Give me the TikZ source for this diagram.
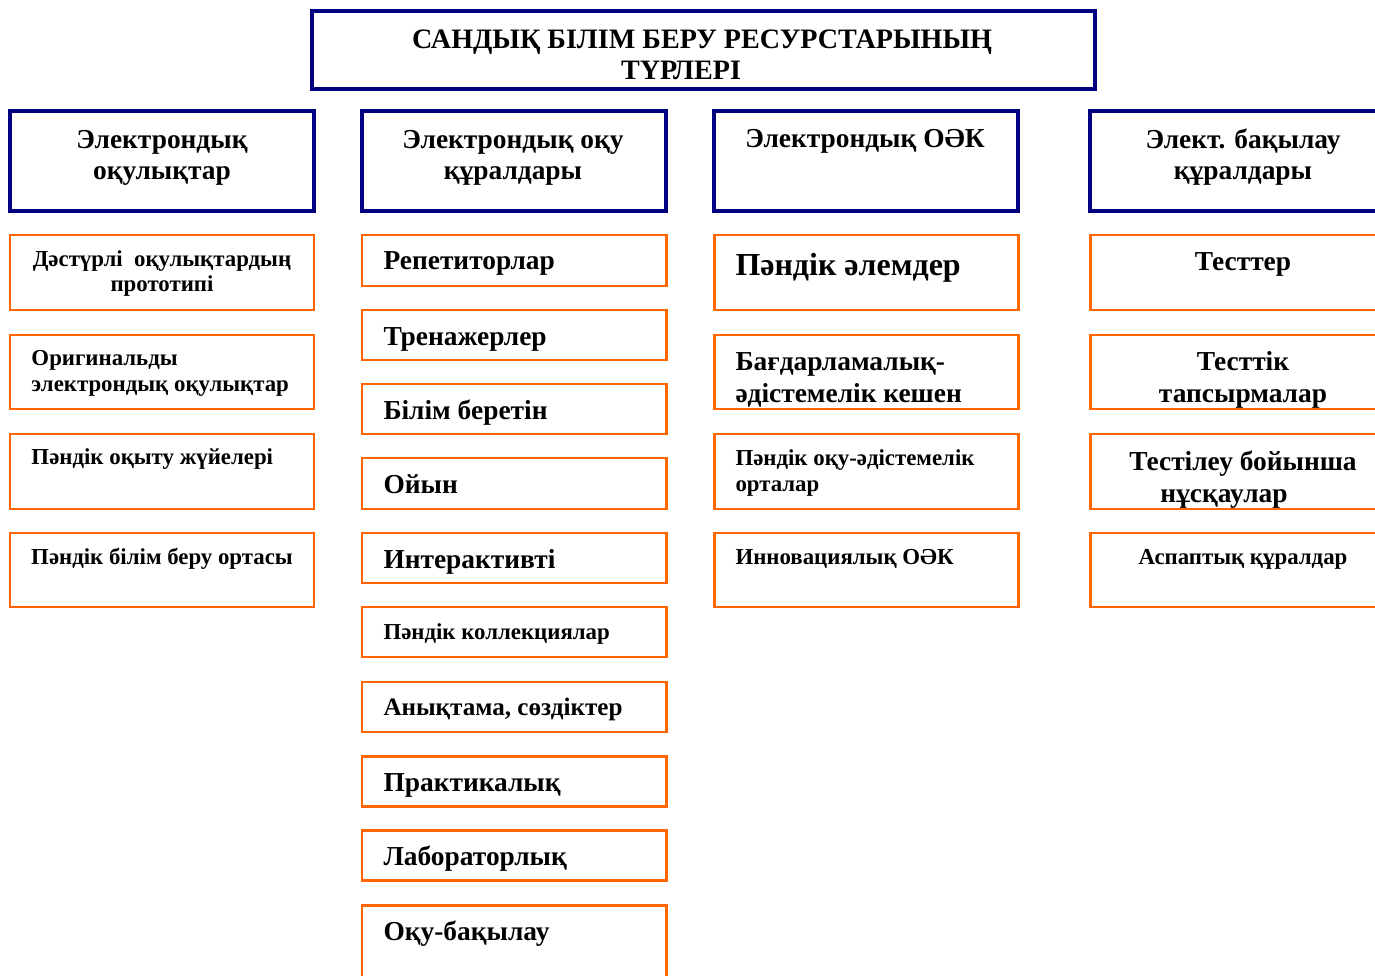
\documentclass[tikz,border=0pt]{standalone}
\usepackage{fontspec}
\setmainfont{Liberation Serif}
\definecolor{hdrblue}{RGB}{0,0,128}
\definecolor{itmorange}{RGB}{255,102,0}

\begin{document}
\begin{tikzpicture}[x=0.02cm,y=-0.02cm,
    hdrbox/.style={draw=hdrblue,line width=2.3pt},
    itmbox/.style={draw=itmorange,line width=1.7pt},
    bigtxt/.style={inner sep=0pt,align=center,font=\bfseries\fontsize{15.6}{18.1}\selectfont},
    hugetxt/.style={inner sep=0pt,align=left,font=\bfseries\fontsize{18.2}{20}\selectfont},
    smalltxt/.style={inner sep=0pt,align=center,font=\bfseries\fontsize{13}{14.6}\selectfont}]
    \clip (0,0) rectangle (1375,976);
    % title
    \draw[hdrbox] (312,11) rectangle +(783,78)
    +(390,69) node[bigtxt,font=\bfseries\fontsize{16}{18.1}\selectfont,anchor=base] (title) {САНДЫҚ БІЛІМ БЕРУ РЕСУРСТАРЫНЫҢ\\ТҮРЛЕРІ\hspace*{0.84cm}};
    % headers
    \draw[hdrbox] (10,111) rectangle +(304,100)
    +(152,69) node[bigtxt,anchor=base] (hdrA) {Электрондық\\оқулықтар};
    \draw[hdrbox] (362,111) rectangle +(304,100)
    +(151,69) node[bigtxt,anchor=base] (hdrB) {Электрондық оқу\\құралдары};
    \draw[hdrbox] (714,111) rectangle +(304,100)
    +(151,37) node[bigtxt,anchor=base] (hdrC) {Электрондық ОӘК};
    \draw[hdrbox] (1090,111) rectangle +(320,100)
    +(153,69) node[bigtxt,anchor=base] (hdrD) {Элект. бақылау\\құралдары};
    % first column
    \draw[itmbox] (10,235) rectangle +(304,75)
    +(152,57) node[smalltxt,anchor=base] (a1) {Дәстүрлі\ \ оқулықтардың\\прототипі};
    \draw[itmbox] (10,335) rectangle +(304,74)
    +(20,56) node[smalltxt,align=left,anchor=base west] (a2) {Оригинальды\\электрондық оқулықтар};
    \draw[itmbox] (10,434) rectangle +(304,75)
    +(20,30) node[smalltxt,anchor=base west] (a3) {Пәндік оқыту жүйелері};
    \draw[itmbox] (10,533) rectangle +(304,74)
    +(152,31) node[smalltxt,anchor=base] (a4) {Пәндік білім беру ортасы};
    % second column
    \draw[itmbox] (362,235) rectangle +(304,51)
    +(20,35) node[bigtxt,anchor=base west] (b1) {Репетиторлар};
    \draw[itmbox] (362,310) rectangle +(304,50)
    +(20,35) node[bigtxt,anchor=base west] (b2) {Тренажерлер};
    \draw[itmbox] (362,384) rectangle +(304,50)
    +(20,35) node[bigtxt,anchor=base west] (b3) {Білім беретін};
    \draw[itmbox] (362,458) rectangle +(304,51)
    +(20,35) node[bigtxt,anchor=base west] (b4) {Ойын};
    \draw[itmbox] (362,533) rectangle +(304,50)
    +(20,35) node[bigtxt,anchor=base west] (b5) {Интерактивті};
    \draw[itmbox] (362,607) rectangle +(304,50)
    +(20,32) node[smalltxt,anchor=base west] (b6) {Пәндік коллекциялар};
    \draw[itmbox] (362,682) rectangle +(304,50)
    +(20,33) node[smalltxt,font=\bfseries\fontsize{14.3}{16}\selectfont,anchor=base west] (b7) {Анықтама, сөздіктер};
    \draw[itmbox] (362,756) rectangle +(304,50)
    +(20,35) node[bigtxt,anchor=base west] (b8) {Практикалық};
    \draw[itmbox] (362,830) rectangle +(304,50)
    +(20,35) node[bigtxt,anchor=base west] (b9) {Лабораторлық};
    \draw[itmbox] (362,905) rectangle +(304,100)
    +(20,35) node[bigtxt,anchor=base west] (b10) {Оқу-бақылау};
    % third column
    \draw[itmbox] (714,235) rectangle +(304,75)
    +(20,41) node[hugetxt,anchor=base west] (c1) {Пәндік әлемдер};
    \draw[itmbox] (714,335) rectangle +(304,74)
    +(20,67) node[bigtxt,align=left,anchor=base west] (c2) {Бағдарламалық-\\әдістемелік кешен};
    \draw[itmbox] (714,434) rectangle +(304,75)
    +(20,57) node[smalltxt,align=left,anchor=base west] (c3) {Пәндік оқу-әдістемелік\\орталар};
    \draw[itmbox] (714,533) rectangle +(304,74)
    +(20,31) node[smalltxt,anchor=base west] (c4) {Инновациялық ОӘК};
    % fourth column
    \draw[itmbox] (1090,235) rectangle +(320,75)
    +(153,36) node[bigtxt,anchor=base] (d1) {Тесттер};
    \draw[itmbox] (1090,335) rectangle +(320,74)
    +(153,67) node[bigtxt,anchor=base] (d2) {Тесттік\\тапсырмалар};
    \draw[itmbox] (1090,434) rectangle +(320,75)
    +(153,68) node[bigtxt,anchor=base] (d3) {Тестілеу бойынша\\нұсқаулар\hspace*{0.76cm}};
    \draw[itmbox] (1090,533) rectangle +(320,74)
    +(153,31) node[smalltxt,anchor=base] (d4) {Аспаптық құралдар};
\end{tikzpicture}
\end{document}
